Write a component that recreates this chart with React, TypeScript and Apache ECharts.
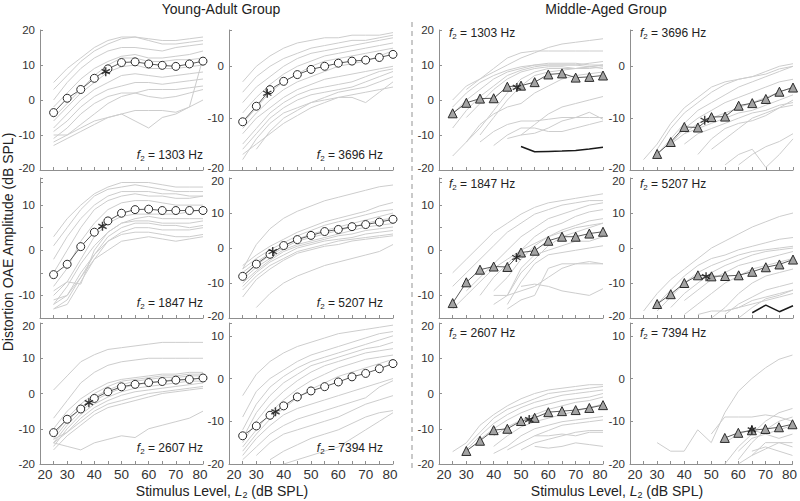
import React, { useEffect, useRef } from 'react';
import * as echarts from 'echarts';

const FF = '"Liberation Sans", Arial, Helvetica, sans-serif';

// Stimulus levels L2 (dB SPL)
const levels = [25, 30, 35, 40, 45, 50, 55, 60, 65, 70, 75, 80];

// ---------- Young-Adult group: group means ----------
const ya1303Mean = [-3.6, 0.5, 3.0, 6.2, 8.9, 10.7, 10.9, 10.3, 9.9, 9.6, 10.3, 11.1];
const ya3696Mean = [-10.7, -7.7, -4.5, -2.9, -1.6, -0.6, 0.0, 0.6, 1.0, 1.2, 1.7, 2.3];
const ya1847Mean = [-5.4, -3.1, 0.8, 4.0, 6.5, 8.2, 9.0, 9.1, 8.8, 8.8, 8.8, 8.8];
const ya5207Mean = [-8.1, -4.6, -1.8, 0.7, 2.4, 3.6, 4.7, 5.3, 6.1, 6.7, 7.4, 8.2];
const ya2607Mean = [-11.1, -7.3, -4.4, -1.4, 0.5, 1.9, 2.6, 3.1, 3.4, 3.8, 4.0, 4.4];
const ya7394Mean = [-13.4, -11.1, -8.6, -6.4, -4.3, -2.9, -1.9, -0.8, 0.4, 1.2, 2.3, 3.5];

// ---------- Middle-Aged group: group means ----------
const ma1303Mean = [-3.8, -0.8, 0.4, 0.5, 3.8, 4.1, 5.1, 7.3, 7.6, 6.4, 6.6, 7.0];
const ma3696Mean = [null, -16.9, -14.6, -11.7, -11.8, -9.8, -9.7, -7.6, -7.1, -6.3, -4.9, -4.1];
const ma1847Mean = [-11.7, -7.1, -4.3, -3.6, -3.7, -0.5, -0.1, 2.1, 3.0, 3.0, 3.7, 4.1];
const ma5207Mean = [null, -16.0, -13.2, -10.0, -7.8, -8.1, -8.0, -7.8, -6.8, -5.5, -4.7, -3.3];
const ma2607Mean = [null, -16.3, -13.4, -10.4, -10.0, -7.8, -6.9, -5.3, -5.0, -4.7, -4.1, -3.3];
const ma7394Mean = [null, null, null, null, null, null, -13.9, -12.7, -12.1, -11.8, -11.4, -10.7];

// ---------- Asterisks (level, amplitude) ----------
const ya1303Star = [44.2, 8.1];
const ya3696Star = [34.0, -5.2];
const ya1847Star = [43.0, 5.3];
const ya5207Star = [36.0, -1.0];
const ya2607Star = [38.0, -2.6];
const ya7394Star = [37.0, -7.8];
const ma1303Star = [48.5, 3.6];
const ma3696Star = [47.5, -10.4];
const ma1847Star = [48.3, -1.6];
const ma5207Star = [48.0, -8.2];
const ma2607Star = [53.0, -7.4];
const ma7394Star = [65.0, -12.0];

// ---------- Black reference lines (middle-aged) ----------
const ma1303Floor = [null, null, null, null, null, -13.3, -14.8, -14.7, -14.6, -14.4, -14.0, -13.5];
const ma5207Floor = [null, null, null, null, null, null, null, null, -18.5, -16.3, -18.2, -16.5];

// ---------- Individual ears (gray lines) ----------
const ya1303Ind = [
  [5, 9, 12, 15, 17, 18, 18, 17.5, 17, 17, 17.5, 18],
  [3, 7, 11, 14, 16, 17.5, 18, 17, 16, 16, 16.5, 17],
  [0, 5, 9, 12, 14, 15, 15, 14.5, 14, 15, 15.5, 16],
  [-2, 2, 6, 9, 11, 12.5, 13, 12, 12, 12.5, 13, 14],
  [-5, -1, 3, 7, 10, 12, 12, 11, 11, 11.5, 11.5, 12],
  [-6, -2, 2, 5, 8, 9.5, 10, 9, 9, 9, 9.5, 10],
  [-8, -4, 0, 3, 5, 7, 7.5, 7, 6.5, 7, 7.5, 8],
  [-9, -6, -2, 1, 3, 4, 5, 5, 4.5, 5, 5.5, 6],
  [-11, -8, -4, -1, 1, 2, 2, 1, 0.5, 1, 2, 3],
  [-12, -10, -7, -4, -1, 1, 2, 3, 3, 3, 3.5, 4],
  [-10, -10, -8, -6, -5, -4, -6, -8, -5, -4, -2, 12],
  [-13, -11, -9, -7, -5, -4, -3, -3, -3, -3.5, -2, 0],
];
const ya3696Ind = [
  [-3, 0, 2, 3.5, 4.5, 5, 5.5, 5.5, 6, 6, 6, 6.5],
  [-5, -2, 0, 1.5, 2.5, 3.5, 4, 4.5, 5, 5, 5.5, 6],
  [-7, -4, -2, 0, 1.5, 2.5, 3, 3.5, 4, 4.5, 5, 5.5],
  [-9, -6, -3.5, -1.5, 0, 1, 2, 2.5, 3, 3.5, 4, 4.5],
  [-11, -8, -5, -3, -1.5, 0, 1, 1.5, 2, 2.5, 3, 3.5],
  [-12, -9, -6.5, -4.5, -3, -2, -1, 0, 0.5, 1, 2, 3],
  [-13, -10, -8, -6, -4.5, -3.5, -2.5, -2, -1.5, -1, -0.5, 0],
  [-15, -12, -9, -7, -5.5, -4.5, -4, -3.5, -3, -2, -1, -0.5],
  [-16, -13, -10, -8, -6.5, -5.5, -5, -4.5, -4, -3, -2, -1],
  [-18, -14, -11, -9, -8, -7, -6.5, -6, -6, -7, -5, -3],
  [null, -16, -12.5, -10, -8.5, -7, -6, -5, -4.5, -4, -3, -2],
  [-17, -15, -13, -11, -9.5, -8, -7, -6, -5.5, -5, -4.5, -4],
];
const ya1847Ind = [
  [3, 7, 10, 12.5, 14, 15, 15, 15, 14.5, 14, 14, 14],
  [1, 5, 9, 12, 13.5, 14, 14.5, 14, 13.5, 13, 13, 13],
  [-2, 3, 7, 10, 12, 13, 13, 13, 12.5, 12.5, 12, 12],
  [-5, 0, 5, 9, 11, 12, 12.5, 12, 12, 11.5, 11.5, 12],
  [-8, -4, 2, 6, 9, 10.5, 11, 11, 10.5, 10, 10, 10],
  [-9, -7, -2, 3, 6, 7.5, 8, 8, 8, 8, 8.5, 9],
  [-10, -7, -7.5, 0, 4, 6, 7, 7.5, 7, 7, 7, 7],
  [-12, -8, -3, 1, 4, 6, 6.5, 6.5, 6, 6, 6, 6.5],
  [-13, -11, -6, -1, 3, 5, 6, 6, 5.5, 5.5, 5, 5.5],
  [-13, -12, -7, -2, 2, 4, 5, 5, 4.5, 4.5, 4.5, 5],
  [-11, -10, -5, -1, 2, 3.5, 4, 4, 3.5, 3, 3, 3.5],
  [-12, -10, -6, -2, 0, 2, 2.5, 3, 2.5, 2, 2.5, 3],
];
const ya5207Ind = [
  [-6, 1, 5.5, 8.5, 10.5, 12, 13.5, 14.5, 15.5, 16.5, 17.5, 18],
  [-5, -2, 0.5, 2.5, 4.5, 6, 7.5, 8.5, 9.5, 10.5, 12, 13],
  [-6, -3, -0.5, 1.5, 3.5, 5, 6.5, 7.5, 8.5, 9.5, 10.5, 11],
  [-7, -4, -1.5, 0.5, 2.5, 4, 5, 6, 7, 8, 9, 10],
  [-8, -5, -2, 0, 2, 3, 4, 5, 6, 7, 8, 8.5],
  [-9, -5.5, -3, -0.5, 1, 2, 3, 4, 5, 6, 6.5, 7],
  [-10, -6.5, -3.5, -1, 0.5, 1.5, 2.5, 3.5, 4, 5, 5.5, 6],
  [-11, -7, -4, -2, 0, 1, 2, 2.5, 3, 4, 4.5, 5],
  [-12, -8, -5, -3, -1, 0, 1, 2, 2.5, 3, 3.5, 4],
  [-14, -9, -6, -3.5, -1.5, -0.5, 0.5, 1, 2, 2.5, 3, 3.5],
  [null, -17, -13, -10, -8, -6.5, -5, -4, -3, -2, -1, 1],
];
const ya2607Ind = [
  [1, 5, 9, 11, 12.5, 13, 13.5, 14, 14.5, 14.5, 14.5, 14.5],
  [-7, -2, 3, 6, 8, 9, 9.5, 10, 10, 10, 10, 10],
  [-10, -5, -1.5, 1, 3, 4, 4.5, 5, 5.5, 5.5, 6, 6],
  [-12, -7, -3, 0, 2, 3.5, 4, 4.5, 5, 5, 5.5, 5.5],
  [-13, -8, -4, -1, 1, 2.5, 3.5, 4, 4.5, 4.5, 5, 5],
  [-14, -9, -5, -2, 0, 1.5, 2.5, 3, 3.5, 4, 4, 4.5],
  [-15, -10, -6, -3, -1, 0.5, 1.5, 2, 2.5, 3, 3.5, 3.5],
  [-14, -11, -7, -4, -2, -0.5, 0.5, 1, 1.5, 2, 2.5, 3],
  [-13, -11, -8, -5, -3, -2, -1, 0, 0.5, 1, 1.5, 2],
  [-16, -12, -9, -6, -4, -3, -2, -1, 0, 0.5, 1, 1.5],
  [-14, -15, -16, -14, -13, -12, -12.5, -10, -9, -8, -7, -5],
];
const ya7394Ind = [
  [-4, 1, 4, 6, 7.5, 8.5, 9.5, 10.5, 11, 11.5, 12, 12.5],
  [-9, -3, 0, 2, 4, 5.5, 6.5, 7.5, 8.5, 9.5, 10.5, 11],
  [-12, -6, -2, 0.5, 2.5, 4, 5, 6, 7, 8, 9, 10],
  [-14, -8, -4, -1, 1, 3, 4, 5, 6, 7, 7.5, 8.5],
  [-15, -10, -6, -3, -0.5, 1.5, 3, 4, 5, 6, 6.5, 7],
  [-16, -12, -8, -5, -2.5, -0.5, 1, 2.5, 3.5, 4.5, 5, 5.5],
  [-17, -13, -9.5, -7, -4.5, -2.5, -1, 0.5, 1.5, 2.5, 3.5, 4.5],
  [-18, -14, -11, -8.5, -7, -6, -5, -4, -3, -2, -1, 0],
  [-19, -16, -13, -11, -9.5, -8.5, -7.5, -6.5, -5.5, -4.5, -2, -0.5],
  [null, -18, -15, -13, -12, -11, -10, -9, -7.5, -6, -5, -4],
  [null, null, -19, -17, -15.5, -14, -13, -12, -10.5, -9, -8, -7.5],
  [null, null, null, -20, -19, -18, -17, -16, -14, -12, -10, -8],
];
const ma1303Ind = [
  [null, 3, 6, 9, 12, 13.5, 14, 14, 14, 14, 14, 14],
  [0, 4, 6, 8, 10, 12, 13.5, 15, 16, 16.5, 17, 17.5],
  [-2, 2, 5, 7, 8.5, 9.5, 10, 10, 10, 10, 9.5, 9],
  [-4, 0, 3, 6, 8, 9, 10, 10.5, 10.5, 10.5, 10, 10],
  [-8, -3, 1, 4, 7, 8.5, 9.5, 10, 10, 10, 10.5, 11],
  [null, -5, -1, 3, 6, 8, 9, 9.5, 9.5, 9, 9.5, 10],
  [null, null, -10, -5, 0, 4, 7, 8, 8.5, 9, 9.5, 10],
  [null, -12, -8, -3, 2, 6, 8, 9, 9, 9, 9, 9.5],
  [-16, -12, -7, -4, -2, -1, 2, 4, 6, 7, 7.5, 8],
  [null, null, null, -13, -10, -8, -8, -9, -9, -8, -7, -6],
  [null, null, null, null, -11, -10, -9.5, -8, -6, -5, -3.5, -5.5],
  [null, null, null, null, null, -10, -7, -4, -2, -1, 0, 1],
  [null, null, -12, -9, -7, -6, -6, -5.5, -5, -5, -5, -5],
];
const ma3696Ind = [
  [-18, -15, -11, -8, -6, -4, -3, -2.5, -2, -1, 0, 0.5],
  [null, -16, -12, -9, -7, -5, -3.5, -2.5, -2, -1.5, -0.5, 0],
  [null, -17, -14, -11, -8.5, -7, -5.5, -4, -3, -2, -1, 0],
  [null, null, -15, -12, -10, -8.5, -7, -6, -5, -4, -3, -2.5],
  [null, null, -15, -13, -11, -10, -9, -8, -7, -6, -5, -4],
  [null, null, null, -13, -12, -11, -10, -9, -8.5, -7.5, -6.5, -5.5],
  [null, null, null, -15, -13, -12, -11, -10, -9, -8.5, -7.5, -7],
  [null, null, null, null, -17, -14, -12, -11, -10.5, -9.5, -8, -6.5],
  [null, null, null, null, null, null, -19, -17, -16, -19.5, -17, -14],
  [null, null, null, null, null, null, null, -19, -17, -15.5, -14.5, -13],
  [null, null, null, null, null, -16, -14, -12, -10, -9, -8, -7.5],
];
const ma1847Ind = [
  [-5, -2, 1, 4, 6, 8, 9.5, 10.5, 11, 11.5, 12, 12.5],
  [-8, -5, -2, 1, 4, 6, 8, 9, 10, 10.5, 11, 11],
  [null, -9, -6, -3, 0, 3, 5, 7, 8, 9, 10, 10.5],
  [null, null, -10, -6, -3, 0, 3, 5, 6, 7.5, 8.5, 9],
  [null, null, null, -9, -6, -2, 1, 3, 4.5, 5.5, 6.5, 7],
  [null, null, null, null, -10, -5, -2, 1, 3, 4, 5, 6],
  [null, null, null, -12, -10, -4, -1, 0, 1, 2, 2, 3],
  [null, null, null, null, -12, -7, -3, -1, -0.5, 0, 0.5, 1],
  [null, null, null, -10, -10, -9, -8, -6, -4, -3, -2.5, -3],
  [null, null, null, null, null, -8, -7.5, -8, -9, -9.5, -10, -8.5],
  [null, null, null, null, -13, -11, -10, -4, -3, -3, -3, -3],
  [-13, -10, -7, -4, -2, 0, 1.5, 3, 4, 5, 5.5, 6],
];
const ma5207Ind = [
  [-18, -13, -9, -6, -3, 0, 2, 4, 6, 7.5, 9, 10],
  [null, -16, -12, -8, -5, -3, -2, -0.5, 0.5, 1.5, 2.5, 3],
  [null, -18, -14, -10, -7, -5, -3.5, -2, -1, -0.5, 0, 0.5],
  [null, null, -17, -13, -10, -7, -5, -3.5, -2, -1, -0.5, 0],
  [null, null, null, -15, -12, -9, -7, -5, -4, -3, -2, -1],
  [null, null, null, -19, -16, -13, -10, -8, -6, -5, -4, -3],
  [null, null, null, null, null, -20, -17, -13, -10, -8, -7, -6],
  [null, null, null, null, null, null, -19, -16, -14, -12, -11, -10],
  [null, null, null, null, null, null, -18, -17, -15, -14, -13, -12],
  [null, null, null, null, null, null, null, -20, -17, -14.5, -13.5, -12],
  [null, null, null, null, -19, -18, -18, -17, -16, -15, -14, -13],
];
const ma2607Ind = [
  [-16.5, -14, -9, -6, -3.5, -1.5, 0, 1, 1.5, 2, 2.5, 2.5],
  [null, -15, -11, -7, -4.5, -3, -1.5, 0, 0.5, 1, 1.5, 2],
  [null, -16, -12, -8.5, -6, -4, -2.5, -1.5, -0.5, 0, 0.5, 1],
  [null, null, -13, -10, -7.5, -5.5, -4, -3, -2, -1.5, -1, 0],
  [null, null, null, -12, -9.5, -7.5, -6, -4.5, -3.5, -2.5, -2, -1],
  [null, null, null, -15, -12, -9.5, -8, -7, -6, -5, -4, -3],
  [null, null, null, -17, -15, -12, -10, -9, -8, -7.5, -7, -6.5],
  [null, null, null, null, -16, -14, -12, -10.5, -9, -8.5, -8, -7.5],
  [null, null, null, null, null, -16, -14, -13, -12, -11, -10.5, -10.5],
  [null, null, null, null, null, null, -15, -15.5, -15, -14, -14.5, -15],
  [null, null, null, null, null, null, -12, -12, -11.5, -12, -11, -11],
];
const ma7394Ind = [
  [null, -15, -17, -17, -12, -15, -8, -3, 0, 2.5, 4.5, 5.5],
  [null, null, null, null, null, -13, -9, -9, -9, -8.5, -9, -10],
  [null, null, null, null, null, null, -20, -16, -13, -10, -8, -7],
  [null, null, null, null, null, null, null, -19, -15, -12, -10, -9],
  [null, null, null, null, null, null, null, -17, -14, -13, -12, -11],
  [null, null, null, null, null, null, null, null, -18, -15, -15, -16],
  [null, null, null, null, null, null, null, null, -17, -16, -17, -18],
  [null, null, null, null, null, null, null, -20, -18, -16.5, -15, -15],
  [null, null, null, null, null, null, -15, -13, -12, -13, -14, -13],
];

const freqLabels = ['1303', '3696', '1847', '5207', '2607', '7394'];

const ASTERISK =
  'path://M8.5 0L11.5 0L11.5 20L8.5 20Z M2.09 16.3L0.59 13.7L17.91 3.7L19.41 6.3Z M0.59 6.3L2.09 3.7L19.41 13.7L17.91 16.3Z';

const colLeft = [40, 229, 439, 630];
const colWidth = [163, 164, 164, 163];
const rowTop = [30, 178, 323];
const rowHeight = [140, 140, 141];
// y-range per [row][sub-column]
const yRange = [
  [[-20, 20, 10], [-20, 7, 10]],
  [[-15, 16, 5], [-20, 20, 10]],
  [[-20, 20, 10], [-20, 13, 10]],
];

const panels = [
  { g: 0, r: 0, c: 0, ind: ya1303Ind, mean: ya1303Mean, star: ya1303Star, floor: null },
  { g: 0, r: 0, c: 1, ind: ya3696Ind, mean: ya3696Mean, star: ya3696Star, floor: null },
  { g: 0, r: 1, c: 0, ind: ya1847Ind, mean: ya1847Mean, star: ya1847Star, floor: null },
  { g: 0, r: 1, c: 1, ind: ya5207Ind, mean: ya5207Mean, star: ya5207Star, floor: null },
  { g: 0, r: 2, c: 0, ind: ya2607Ind, mean: ya2607Mean, star: ya2607Star, floor: null },
  { g: 0, r: 2, c: 1, ind: ya7394Ind, mean: ya7394Mean, star: ya7394Star, floor: null },
  { g: 1, r: 0, c: 0, ind: ma1303Ind, mean: ma1303Mean, star: ma1303Star, floor: ma1303Floor },
  { g: 1, r: 0, c: 1, ind: ma3696Ind, mean: ma3696Mean, star: ma3696Star, floor: null },
  { g: 1, r: 1, c: 0, ind: ma1847Ind, mean: ma1847Mean, star: ma1847Star, floor: null },
  { g: 1, r: 1, c: 1, ind: ma5207Ind, mean: ma5207Mean, star: ma5207Star, floor: ma5207Floor },
  { g: 1, r: 2, c: 0, ind: ma2607Ind, mean: ma2607Mean, star: ma2607Star, floor: null },
  { g: 1, r: 2, c: 1, ind: ma7394Ind, mean: ma7394Mean, star: ma7394Star, floor: null },
];

const toPts = (arr: (number | null)[]) =>
  levels.map((x, i) => [x, arr[i]]).filter((p) => p[1] !== null && p[1] !== undefined);

function buildOption() {
  const grid: any[] = [];
  const xAxis: any[] = [];
  const yAxis: any[] = [];
  const series: any[] = [];
  const graphic: any[] = [];
  const axisColor = '#8f8f8f';

  panels.forEach((p, i) => {
    const col = p.g * 2 + p.c;
    const [ymin, ymax, yint] = yRange[p.r][p.c];
    grid.push({ left: colLeft[col], top: rowTop[p.r], width: colWidth[col], height: rowHeight[p.r], containLabel: false });
    xAxis.push({
      type: 'value', gridIndex: i, min: 20, max: 80, interval: 5,
      axisLine: { show: true, onZero: false, lineStyle: { color: axisColor, width: 1 } },
      axisTick: { show: true, inside: true, length: 3, lineStyle: { color: axisColor } },
      axisLabel: {
        show: p.r === 2, margin: 3, fontSize: 13.5, color: '#333', fontFamily: FF,
        formatter: (v: number) => {
          if (v % 10 !== 0) return '';
          if (v === 20) return '{a|20}';
          if (v === 80) return '{z|80}';
          return String(v);
        },
        rich: {
          a: { padding: [0, 0, 0, 10], fontSize: 13.5, fontFamily: FF, color: '#333' },
          z: { padding: [0, 6, 0, 0], fontSize: 13.5, fontFamily: FF, color: '#333' },
        },
      },
      splitLine: { show: false },
    });
    yAxis.push({
      type: 'value', gridIndex: i, min: ymin, max: ymax, interval: yint,
      axisLine: { show: true, onZero: false, lineStyle: { color: axisColor, width: 1 } },
      axisTick: { show: true, inside: true, length: 3, lineStyle: { color: axisColor } },
      axisLabel: {
        margin: 5, fontSize: 11.5, color: '#333', fontFamily: FF,
        formatter: (v: number) => {
          if (v % 10 !== 0) return '';
          if (v === -20 && p.r < 2) return '{lo|-20}';
          if (v === 20 && p.r > 0) return '{hi|20}';
          return String(v);
        },
        rich: {
          lo: { padding: [0, 0, 5, 0], fontSize: 11.5, fontFamily: FF, color: '#333' },
          hi: { padding: [5, 0, 0, 0], fontSize: 11.5, fontFamily: FF, color: '#333' },
        },
      },
      splitLine: { show: false },
    });
    p.ind.forEach((arr) => {
      series.push({
        type: 'line', xAxisIndex: i, yAxisIndex: i, data: toPts(arr), symbol: 'none',
        lineStyle: { color: '#cdcdcd', width: 1 }, silent: true, z: 1,
      });
    });
    if (p.floor) {
      series.push({
        type: 'line', xAxisIndex: i, yAxisIndex: i, data: toPts(p.floor), symbol: 'none',
        lineStyle: { color: '#1a1a1a', width: 1.5 }, silent: true, z: 2,
      });
    }
    series.push({
      type: 'line', xAxisIndex: i, yAxisIndex: i, data: toPts(p.mean),
      symbol: p.g === 0 ? 'circle' : 'triangle', symbolSize: p.g === 0 ? 8 : 9,
      itemStyle: { color: p.g === 0 ? '#ffffff' : '#a3a3a3', borderColor: '#2a2a2a', borderWidth: 1 },
      lineStyle: { color: '#4a4a4a', width: 0.9 }, z: 3, silent: true,
    });
    series.push({
      type: 'scatter', xAxisIndex: i, yAxisIndex: i, data: [p.star], symbol: ASTERISK,
      symbolSize: 9, itemStyle: { color: '#111' }, z: 5, silent: true,
    });

    // f2 annotation
    const freq = freqLabels[(p.r * 2) + p.c];
    let tx: number, ty: number;
    if (p.g === 0) {
      tx = colLeft[col] + colWidth[col] - (p.c === 0 ? 0 : 10);
      ty = [155, 303, 448][p.r];
    } else {
      tx = colLeft[col] + 10;
      ty = [33, 184, 333][p.r];
    }
    graphic.push({
      type: 'text', x: tx, y: ty, z: 10,
      style: {
        text: `{i|f}{s|2}{n| = ${freq} Hz}`,
        align: p.g === 0 ? 'right' : 'left', verticalAlign: 'middle',
        rich: {
          i: { fontStyle: 'italic', fontSize: 12, fontFamily: FF, fill: '#222', lineHeight: 14 },
          s: { fontSize: 8, fontFamily: FF, fill: '#222', verticalAlign: 'bottom', lineHeight: 6 },
          n: { fontSize: 12, fontFamily: FF, fill: '#222', lineHeight: 14 },
        },
      },
    });
  });

  // group titles
  graphic.push({
    type: 'text', x: 221, y: 9,
    style: { text: 'Young-Adult Group', fontSize: 14, fontFamily: FF, fill: '#222', align: 'center', verticalAlign: 'middle' },
  });
  graphic.push({
    type: 'text', x: 606, y: 9,
    style: { text: 'Middle-Aged Group', fontSize: 14, fontFamily: FF, fill: '#222', align: 'center', verticalAlign: 'middle' },
  });
  // x-axis titles
  const xTitleRich = {
    n: { fontSize: 14, fontFamily: FF, fill: '#222', lineHeight: 16 },
    i: { fontSize: 14, fontFamily: FF, fontStyle: 'italic', fill: '#222', lineHeight: 16 },
    s: { fontSize: 9, fontFamily: FF, fill: '#222', verticalAlign: 'bottom', lineHeight: 8 },
  };
  [222, 617].forEach((cx) => {
    graphic.push({
      type: 'text', x: cx, y: 491,
      style: { text: '{n|Stimulus Level, }{i|L}{s|2}{n| (dB SPL)}', rich: xTitleRich, align: 'center', verticalAlign: 'middle' },
    });
  });
  // y-axis title
  graphic.push({
    type: 'text', x: 8, y: 242, rotation: Math.PI / 2,
    style: { text: 'Distortion OAE Amplitude (dB SPL)', fontSize: 14, fontFamily: FF, fill: '#222', align: 'center', verticalAlign: 'middle' },
  });
  // dashed separator
  graphic.push({
    type: 'line', shape: { x1: 412, y1: 22, x2: 412, y2: 468 },
    style: { stroke: '#b8b8b8', lineWidth: 1.5, lineDash: [5, 4] },
  });

  return {
    animation: false,
    backgroundColor: '#ffffff',
    grid, xAxis, yAxis, series, graphic,
  };
}

export default function App() {
  const ref = useRef<HTMLDivElement>(null);
  useEffect(() => {
    if (!ref.current) return;
    const chart = echarts.init(ref.current, null, { renderer: 'svg' });
    chart.setOption(buildOption() as any);
    return () => chart.dispose();
  }, []);
  return <div ref={ref} style={{ position: 'fixed', left: 0, top: 0, width: 800, height: 501 }} />;
}
